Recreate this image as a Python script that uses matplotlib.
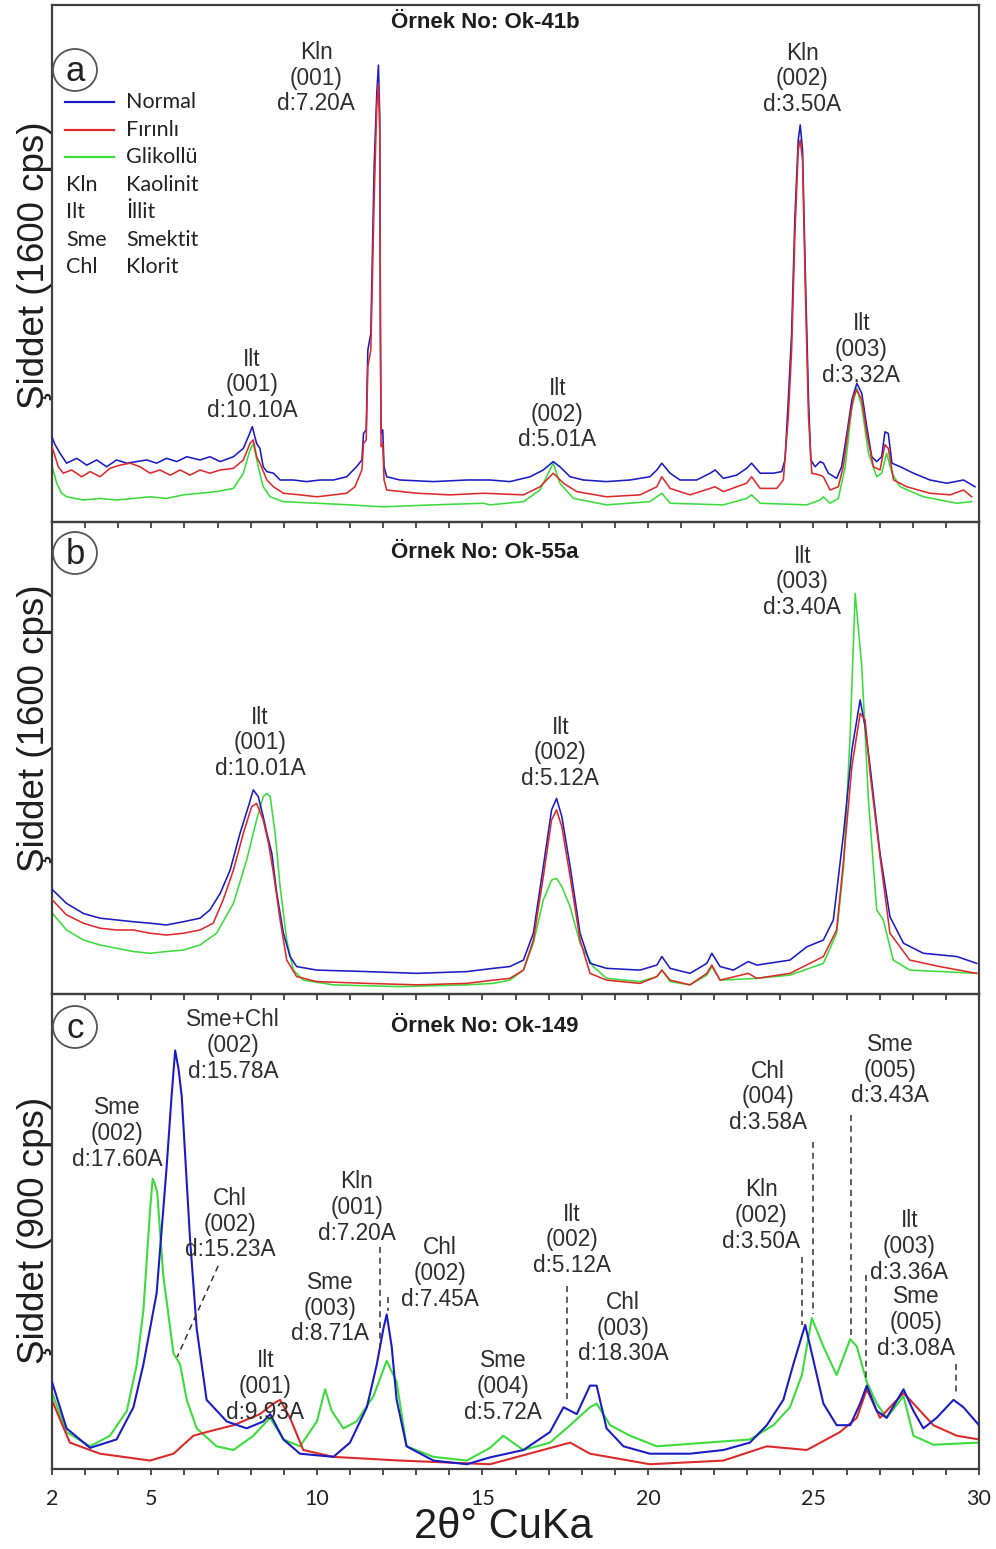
import matplotlib
matplotlib.use("Agg")
import matplotlib.pyplot as plt
from matplotlib.patches import Ellipse

# ---------------------------------------------------------------------------
# XRD patterns (2-theta in degrees, intensity in cps)
# ---------------------------------------------------------------------------

# Sample Ok-41b (panel a, full scale 1600 cps)
A_NORMAL = [(2.00, 262), (2.09, 240), (2.24, 213), (2.44, 182), (2.75, 197), (3.05, 176),
            (3.35, 192), (3.65, 171), (3.95, 192), (4.26, 182), (4.56, 187), (4.86, 192),
            (5.16, 182), (5.46, 197), (5.77, 187), (6.07, 202), (6.47, 192), (6.77, 202),
            (7.08, 187), (7.48, 202), (7.78, 228), (7.93, 264), (8.05, 295), (8.18, 243),
            (8.28, 228), (8.38, 171), (8.49, 156), (8.69, 151), (8.89, 130), (9.29, 130),
            (9.69, 125), (10.10, 130), (10.50, 130), (10.90, 140), (11.20, 171), (11.36, 192),
            (11.41, 274), (11.49, 285), (11.54, 532), (11.63, 584), (11.73, 1100), (11.81, 1327),
            (11.86, 1414), (11.90, 1255), (11.92, 584), (11.94, 274), (11.99, 285), (12.03, 171),
            (12.11, 140), (12.51, 130), (13.52, 125), (14.53, 130), (15.23, 130), (15.83, 125),
            (16.44, 140), (16.84, 161), (17.14, 187), (17.34, 171), (17.65, 140), (18.05, 130),
            (18.75, 125), (19.46, 130), (20.06, 140), (20.27, 161), (20.42, 182), (20.67, 151),
            (20.97, 130), (21.47, 130), (21.88, 151), (22.03, 161), (22.28, 135), (22.68, 145),
            (22.98, 166), (23.13, 182), (23.39, 151), (23.79, 151), (24.04, 156), (24.14, 192),
            (24.24, 378), (24.34, 584), (24.44, 945), (24.54, 1182), (24.60, 1229), (24.67, 1151),
            (24.75, 790), (24.85, 378), (24.92, 192), (25.05, 171), (25.20, 187), (25.30, 182),
            (25.45, 151), (25.70, 135), (25.85, 171), (26.01, 274), (26.16, 378), (26.31, 429),
            (26.46, 398), (26.61, 295), (26.76, 202), (26.91, 187), (27.06, 202), (27.16, 279),
            (27.26, 274), (27.37, 182), (27.62, 171), (28.02, 151), (28.52, 130), (29.03, 120),
            (29.53, 130), (29.78, 115), (29.88, 109)]

A_FIRINLI = [(2.00, 233), (2.19, 171), (2.34, 151), (2.59, 161), (2.90, 140), (3.15, 156),
             (3.45, 140), (3.75, 166), (4.05, 176), (4.36, 182), (4.66, 171), (4.96, 151),
             (5.26, 161), (5.57, 145), (5.87, 161), (6.17, 145), (6.47, 161), (6.77, 151),
             (7.08, 161), (7.48, 166), (7.78, 192), (7.98, 243), (8.08, 254), (8.18, 202),
             (8.28, 182), (8.49, 130), (8.69, 109), (8.99, 89), (9.49, 84), (10.00, 78),
             (10.50, 84), (10.90, 89), (11.15, 109), (11.36, 161), (11.41, 243), (11.49, 254),
             (11.54, 481), (11.63, 532), (11.73, 997), (11.81, 1286), (11.86, 1358), (11.90, 1203),
             (11.92, 584), (11.94, 233), (11.99, 243), (12.03, 130), (12.11, 99), (13.02, 89),
             (14.02, 84), (15.03, 89), (16.24, 84), (16.74, 109), (17.14, 151), (17.45, 120),
             (17.85, 94), (18.75, 78), (19.76, 84), (20.27, 109), (20.42, 140), (20.67, 104),
             (21.27, 84), (22.03, 109), (22.28, 94), (22.98, 120), (23.13, 140), (23.39, 104),
             (23.89, 104), (24.09, 130), (24.24, 325), (24.34, 532), (24.44, 893), (24.54, 1151),
             (24.60, 1182), (24.67, 1120), (24.75, 738), (24.85, 326), (24.95, 151), (25.20, 145),
             (25.30, 140), (25.50, 99), (25.75, 109), (25.90, 171), (26.06, 295), (26.21, 388),
             (26.31, 409), (26.46, 378), (26.61, 274), (26.81, 171), (27.01, 161), (27.16, 239),
             (27.26, 228), (27.42, 130), (27.82, 109), (28.52, 89), (29.13, 84), (29.53, 99),
             (29.78, 78)]

A_GLIKOLLU = [(2.00, 175), (2.14, 120), (2.29, 89), (2.44, 78), (2.95, 68), (3.45, 73),
              (3.95, 68), (4.46, 73), (4.96, 78), (5.46, 73), (5.97, 84), (6.47, 89),
              (6.97, 94), (7.48, 104), (7.78, 151), (7.98, 223), (8.08, 243), (8.23, 171),
              (8.38, 109), (8.59, 78), (8.99, 63), (10.00, 58), (11.00, 53), (12.00, 47),
              (13.52, 53), (15.03, 58), (15.23, 53), (16.24, 63), (16.74, 99), (17.14, 182),
              (17.34, 120), (17.75, 73), (18.75, 53), (20.06, 63), (20.42, 89), (20.67, 58),
              (22.28, 53), (22.98, 73), (23.13, 84), (23.39, 58), (24.80, 53), (25.20, 68),
              (25.30, 78), (25.50, 58), (25.75, 73), (25.96, 171), (26.16, 357), (26.31, 414),
              (26.46, 357), (26.66, 213), (26.91, 140), (27.06, 151), (27.21, 213), (27.37, 151),
              (27.62, 109), (28.32, 78), (29.33, 58), (29.78, 63)]

# Sample Ok-55a (panel b, full scale 1600 cps)
B_NORMAL = [(2.00, 355), (2.44, 307), (2.95, 273), (3.45, 257), (3.95, 251), (4.46, 245),
            (4.96, 240), (5.46, 234), (5.97, 245), (6.47, 257), (6.77, 285), (7.08, 341),
            (7.38, 420), (7.68, 545), (7.93, 635), (8.08, 692), (8.23, 669), (8.38, 601),
            (8.49, 545), (8.64, 477), (8.79, 341), (8.99, 206), (9.19, 127), (9.39, 93),
            (10.00, 81), (11.51, 76), (13.02, 70), (14.53, 76), (15.33, 87), (15.83, 93),
            (16.24, 115), (16.54, 206), (16.84, 432), (17.09, 624), (17.24, 663), (17.40, 601),
            (17.65, 432), (17.95, 206), (18.25, 104), (18.75, 87), (19.76, 81), (20.27, 98),
            (20.42, 127), (20.67, 87), (21.27, 70), (21.78, 104), (21.93, 138), (22.18, 93),
            (22.58, 81), (23.03, 110), (23.29, 98), (24.29, 115), (24.80, 160), (25.30, 183),
            (25.60, 251), (25.91, 545), (26.16, 827), (26.41, 997), (26.56, 906), (26.71, 771),
            (27.01, 477), (27.31, 262), (27.72, 172), (28.32, 138), (29.33, 127), (29.93, 104)]

B_FIRINLI = [(2.00, 320), (2.44, 268), (2.95, 240), (3.45, 223), (3.95, 217), (4.46, 217),
             (4.96, 206), (5.46, 200), (5.97, 206), (6.47, 217), (6.87, 240), (7.17, 319),
             (7.48, 420), (7.78, 545), (8.03, 635), (8.18, 646), (8.38, 590), (8.54, 511),
             (8.69, 409), (8.89, 251), (9.09, 115), (9.39, 59), (10.00, 42), (11.51, 36),
             (13.02, 31), (14.53, 36), (15.33, 47), (15.83, 53), (16.24, 81), (16.54, 183),
             (16.84, 398), (17.09, 590), (17.24, 624), (17.40, 567), (17.65, 398), (17.95, 183),
             (18.25, 70), (18.75, 47), (19.76, 36), (20.27, 59), (20.42, 81), (20.67, 47),
             (21.27, 31), (21.78, 70), (21.93, 98), (22.18, 47), (23.03, 70), (23.29, 53),
             (24.29, 70), (25.30, 127), (25.70, 217), (25.91, 454), (26.16, 771), (26.41, 951),
             (26.56, 929), (26.71, 748), (27.01, 466), (27.31, 206), (27.91, 115), (28.81, 93),
             (29.93, 70)]

B_GLIKOLLU = [(2.00, 275), (2.44, 217), (2.95, 183), (3.45, 166), (3.95, 155), (4.46, 144),
              (4.96, 138), (5.46, 144), (5.97, 149), (6.47, 166), (6.97, 206), (7.48, 307),
              (7.88, 454), (8.18, 590), (8.38, 669), (8.49, 680), (8.59, 669), (8.74, 545),
              (8.89, 364), (9.09, 183), (9.29, 81), (9.59, 47), (10.50, 31), (12.51, 25),
              (14.53, 31), (15.33, 36), (15.83, 47), (16.24, 81), (16.54, 172), (16.84, 319),
              (17.09, 386), (17.24, 392), (17.40, 364), (17.65, 296), (17.95, 172), (18.35, 93),
              (18.75, 53), (19.76, 42), (20.27, 59), (20.42, 81), (20.67, 42), (21.27, 31),
              (21.78, 64), (21.93, 93), (22.18, 47), (23.29, 53), (24.29, 64), (25.30, 104),
              (25.70, 206), (25.91, 432), (26.11, 884), (26.26, 1358), (26.46, 1110), (26.66, 658),
              (26.91, 285), (27.11, 251), (27.41, 115), (27.91, 81), (29.93, 70)]

# Sample Ok-149 (panel c, full scale 900 cps)
C_NORMAL = [(2.00, 165), (2.44, 77), (3.15, 40), (3.95, 56), (4.46, 117), (4.76, 198),
            (5.16, 333), (5.46, 570), (5.61, 705), (5.72, 793), (5.82, 759), (5.92, 705),
            (6.17, 435), (6.37, 266), (6.67, 131), (7.28, 90), (7.88, 77), (8.38, 90),
            (8.59, 104), (8.99, 56), (9.49, 29), (10.50, 23), (11.00, 50), (11.51, 117),
            (11.81, 198), (12.01, 266), (12.11, 293), (12.26, 232), (12.41, 131), (12.71, 43),
            (13.52, 16), (14.53, 9), (15.23, 22), (16.24, 36), (17.04, 70), (17.45, 117),
            (17.85, 104), (18.25, 158), (18.45, 158), (18.75, 77), (19.26, 43), (20.06, 29),
            (21.27, 29), (22.28, 36), (23.08, 50), (23.59, 83), (24.09, 131), (24.39, 198),
            (24.75, 273), (24.95, 219), (25.30, 124), (25.70, 83), (26.11, 83), (26.41, 124),
            (26.61, 158), (26.91, 110), (27.21, 97), (27.72, 151), (28.02, 110), (28.32, 77),
            (28.72, 97), (29.23, 131), (29.53, 117), (30.00, 83)]

C_FIRINLI = [(2.00, 130), (2.54, 50), (3.45, 29), (4.96, 16), (5.67, 29), (6.27, 63),
             (6.67, 70), (7.48, 83), (8.28, 104), (8.69, 124), (8.89, 131), (9.19, 97),
             (9.59, 36), (10.50, 23), (12.51, 16), (15.23, 9), (17.65, 50), (18.25, 29),
             (20.06, 9), (22.28, 16), (23.59, 43), (24.80, 36), (25.80, 70), (26.31, 97),
             (26.61, 151), (27.01, 97), (27.72, 144), (28.02, 124), (28.62, 83), (29.33, 63),
             (30.00, 56)]

C_GLIKOLLU = [(2.00, 145), (2.44, 70), (3.15, 43), (3.75, 63), (4.26, 110), (4.56, 198),
              (4.76, 300), (4.96, 489), (5.04, 550), (5.11, 540), (5.18, 523), (5.36, 367),
              (5.67, 219), (5.87, 198), (6.07, 131), (6.37, 77), (6.97, 43), (7.48, 36),
              (8.08, 63), (8.59, 97), (8.99, 56), (9.49, 43), (10.00, 90), (10.25, 151),
              (10.45, 110), (10.80, 77), (11.20, 90), (11.71, 138), (12.11, 205), (12.41, 165),
              (12.71, 43), (13.52, 23), (14.53, 16), (15.23, 40), (15.63, 63), (16.24, 36),
              (17.04, 50), (17.65, 83), (18.25, 117), (18.45, 124), (18.86, 83), (19.46, 63),
              (20.27, 43), (21.78, 50), (23.08, 56), (23.79, 83), (24.29, 117), (24.65, 178),
              (24.95, 286), (25.30, 232), (25.70, 178), (26.11, 246), (26.31, 232), (26.61, 165),
              (26.91, 124), (27.21, 97), (27.72, 138), (28.02, 63), (28.62, 46), (30.00, 50)]

# Peak labels: (text, 2-theta, cps)
A_LABELS = [("Kln\n(001)\nd:7.20A", 9.98, 1374), ("Ilt\n(001)\nd:10.10A", 8.04, 424),
            ("Ilt\n(002)\nd:5.01A", 17.26, 334), ("Kln\n(002)\nd:3.50A", 24.66, 1371),
            ("Ilt\n(003)\nd:3.32A", 26.44, 535)]
B_LABELS = [("Ilt\n(001)\nd:10.01A", 8.28, 851), ("Ilt\n(002)\nd:5.12A", 17.35, 817),
            ("Ilt\n(003)\nd:3.40A", 24.66, 1397)]
C_LABELS = [("Sme\n(002)\nd:17.60A", 3.96, 635), ("Sme+Chl\n(002)\nd:15.78A", 7.47, 802),
            ("Chl\n(002)\nd:15.23A", 7.38, 464), ("Ilt\n(001)\nd:9.93A", 8.44, 157),
            ("Sme\n(003)\nd:8.71A", 10.40, 305), ("Kln\n(001)\nd:7.20A", 11.21, 495),
            ("Chl\n(002)\nd:7.45A", 13.72, 370), ("Sme\n(004)\nd:5.72A", 15.63, 157),
            ("Ilt\n(002)\nd:5.12A", 17.71, 434), ("Chl\n(003)\nd:18.30A", 19.25, 267),
            ("Kln\n(002)\nd:3.50A", 23.42, 481), ("Chl\n(004)\nd:3.58A", 23.63, 705),
            ("Sme\n(005)\nd:3.43A", 27.32, 756), ("Ilt\n(003)\nd:3.36A", 27.89, 421),
            ("Sme\n(005)\nd:3.08A", 28.10, 277)]

# Dashed leader lines in panel c: (2-theta start, cps start, 2-theta end, cps end)
C_LEADERS = [(7.02, 385, 5.78, 212), (11.91, 421, 11.91, 231), (12.15, 326, 12.15, 299),
             (17.56, 347, 17.56, 131), (24.66, 402, 24.66, 273), (24.99, 620, 24.99, 294),
             (26.14, 671, 26.14, 252), (26.59, 368, 26.59, 165), (29.31, 199, 29.31, 138)]

SAMPLES = ["Örnek No: Ok-41b", "Örnek No: Ok-55a", "Örnek No: Ok-149"]
FULL_SCALE = [1600, 1600, 900]
PANEL_TAGS = ["a", "b", "c"]
LEGEND_SERIES = ["Normal", "Fırınlı", "Glikollü"]
ABBREVIATIONS = [("Kln", "Kaolinit"), ("Ilt", "İllit"), ("Sme", "Smektit"), ("Chl", "Klorit")]
XTICK_LABELS = {2: "2", 5: "5", 10: "10", 15: "15", 20: "20", 25: "25", 30: "30"}
Y_CAPTIONS = ["Şiddet (1600 cps)", "Şiddet (1600 cps)", "Şiddet (900 cps)"]

# ---------------------------------------------------------------------------
# Styling / layout
# ---------------------------------------------------------------------------
C_BLUE, C_RED, C_GREEN = "#1c1cc4", "#dc2b2b", "#3cdc3c"
TEXT_COL = "#2e2e2e"
SPINE_COL = "#404040"
ANNOT_FONT = "Liberation Sans"
TICK_FONT = "Lato"

W, H = 996, 1549
X0, X1 = 52, 979                      # left / right edge of the plotting area (px)
ROWS = [(5, 522), (522, 994), (994, 1469)]   # top / bottom of each panel (px)
TITLE_OFFSET = [17, 31, 33]           # px below panel top
TAG_OFFSET = [65, 31, 33]             # circle centre, px below panel top
CAPTION_Y = [265, 728, 1230]          # centre of the rotated y captions (px)
LINE_W = [1.15, 1.15, 1.5]

fig = plt.figure(figsize=(W / 100, H / 100), dpi=100)
fig.patch.set_facecolor("white")


def unzip(pairs):
    return [p[0] for p in pairs], [p[1] for p in pairs]


series = [(A_NORMAL, A_FIRINLI, A_GLIKOLLU),
          (B_NORMAL, B_FIRINLI, B_GLIKOLLU),
          (C_NORMAL, C_FIRINLI, C_GLIKOLLU)]
labels = [A_LABELS, B_LABELS, C_LABELS]

axes = []
for i, (top, bot) in enumerate(ROWS):
    h_px = bot - top
    ax = fig.add_axes([X0 / W, 1 - bot / H, (X1 - X0) / W, h_px / H])
    ax.patch.set_visible(False)
    ax.set_xlim(2, 30)
    ax.set_ylim(0, FULL_SCALE[i])
    ax.set_yticks([])
    for sp in ax.spines.values():
        sp.set_color(SPINE_COL)
        sp.set_linewidth(1.6)
    ax.set_xticks(range(2, 31))
    ax.tick_params(axis="x", direction="out", length=4.5, width=1.3, color=SPINE_COL,
                   pad=10, labelsize=15.5, labelcolor="#222222")
    if i == 2:
        ax.set_xticklabels([XTICK_LABELS.get(t, "") for t in range(2, 31)],
                           fontfamily=TICK_FONT)
    else:
        ax.tick_params(axis="x", labelbottom=False)

    normal, firinli, glikollu = series[i]
    lw = LINE_W[i]
    x, y = unzip(glikollu)
    ax.plot(x, y, color=C_GREEN, lw=lw, zorder=2)
    x, y = unzip(normal)
    ax.plot(x, y, color=C_BLUE, lw=lw, zorder=3)
    x, y = unzip(firinli)
    ax.plot(x, y, color=C_RED, lw=lw, zorder=4 if i != 2 else 2.5)

    for txt, tx, ty in labels[i]:
        ax.text(tx, ty, txt, ha="center", va="center", fontsize=16.3, color=TEXT_COL,
                family=ANNOT_FONT, linespacing=1.16, zorder=6)

    # sample title
    ax.text(0.467, 1 - TITLE_OFFSET[i] / h_px, SAMPLES[i], transform=ax.transAxes,
            ha="center", va="center", fontsize=16, fontweight="bold",
            color="#1e1e1e", family=ANNOT_FONT)

    # circled panel tag
    cy = 1 - TAG_OFFSET[i] / h_px
    cx = 23 / (X1 - X0)
    ax.add_patch(Ellipse((cx, cy), 44 / (X1 - X0), 42 / h_px, transform=ax.transAxes,
                         fill=False, ec="#555555", lw=1.3, zorder=7))
    ax.text(cx, cy - 1.5 / h_px, PANEL_TAGS[i], transform=ax.transAxes, ha="center",
            va="center", fontsize=25, color="#222222", family=ANNOT_FONT, zorder=8)

    # rotated intensity caption
    fig.text(35 / W, 1 - CAPTION_Y[i] / H, Y_CAPTIONS[i], rotation=90, ha="center",
             va="center", fontsize=26.5, color="#1e1e1e", family=ANNOT_FONT)
    axes.append(ax)

# dashed leaders in the lower panel
for xs, ys, xe, ye in C_LEADERS:
    axes[2].plot([xs, xe], [ys, ye], ls=(0, (4, 3)), color="#333333", lw=1.1, zorder=5)

# legend block in panel a
ax = axes[0]
h_px = ROWS[0][1] - ROWS[0][0]
for k, (name, col) in enumerate(zip(LEGEND_SERIES, [C_BLUE, C_RED, C_GREEN])):
    yy = 1 - (97 + 27.5 * k) / h_px
    ax.plot([13 / 927, 62 / 927], [yy, yy], transform=ax.transAxes, color=col, lw=1.6)
    ax.text(74 / 927, yy, name, transform=ax.transAxes, ha="left", va="center",
            fontsize=15.5, color="#222222", family=TICK_FONT)
for k, (ab, full) in enumerate(ABBREVIATIONS):
    yy = 1 - (180 + 27.3 * k) / h_px
    ax.text(14 / 927, yy, ab, transform=ax.transAxes, ha="left", va="center",
            fontsize=15.5, color="#222222", family=TICK_FONT)
    ax.text(74 / 927, yy, full, transform=ax.transAxes, ha="left", va="center",
            fontsize=15.5, color="#222222", family=TICK_FONT)

# x-axis caption
fig.text(503 / W, 1 - 1527 / H, "2θ° CuKa", ha="center", va="center", fontsize=30,
         color="#1e1e1e", family=ANNOT_FONT)

fig.savefig("out.png", dpi=100, facecolor="white")
